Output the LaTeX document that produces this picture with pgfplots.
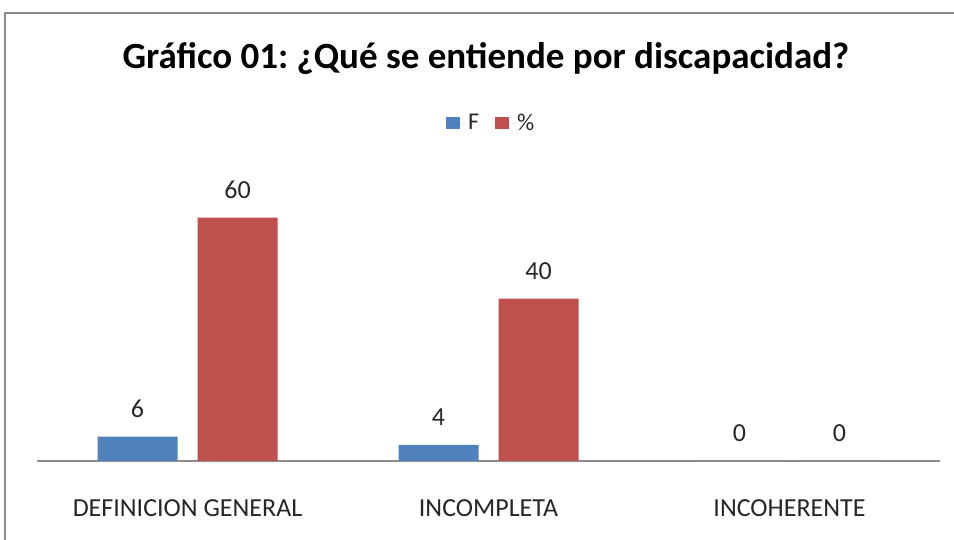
\documentclass[border=0pt]{standalone}
\usepackage{pgfplots}
\pgfplotsset{compat=1.18}
\usepackage{fontspec}
\setmainfont{Carlito}
\frenchspacing
\definecolor{cblue}{HTML}{4F81BD}
\definecolor{cred}{HTML}{C0504D}
\definecolor{frame}{HTML}{8C8C8C}
\begin{document}
\begin{tikzpicture}[x=1pt,y=1pt]
\useasboundingbox (0,0) rectangle (954,540);
\draw[frame,line width=2pt] (5,-5) -- (5,527) -- (960,527);
\begin{axis}[
  at={(37pt,79pt)}, anchor=south west,
  scale only axis, width=903pt, height=284pt,
  xmin=-0.5, xmax=2.5, ymin=0, ymax=70,
  axis y line=none,
  axis x line*=bottom,
  x axis line style={draw=frame, line width=1.2pt, -},
  xtick={0,1,2}, xtick style={draw=none},
  xticklabels={DEFINICION GENERAL, INCOMPLETA, INCOHERENTE},
  xticklabel style={font=\fontsize{26}{30}\selectfont, text=black!85, anchor=base, yshift=-51pt},
  /pgf/number format/assume math mode=true,
  ybar, bar width=80pt,
  nodes near coords,
  every node near coord/.append style={font=\fontsize{26}{30}\selectfont, text=black!85, anchor=base, yshift=19pt},
  legend columns=2,
  legend style={at={(axis description cs:0.503,1.19)}, anchor=center, draw=none, fill=none,
    font=\fontsize{24}{28}\selectfont, text=black!85,
    /tikz/every even column/.append style={column sep=14pt}},
  legend image code/.code={\fill[#1] (0pt,-6pt) rectangle (14pt,6pt); \path (0pt,0pt) -- (20pt,0pt);},
  clip=false,
]
\addplot[fill=cblue, draw=none, bar shift=-50pt] coordinates {(0,6) (1,4) (2,0)};
\addplot[fill=cred, draw=none, bar shift=50pt] coordinates {(0,60) (1,40) (2,0)};
\legend{F, \%}
\node[anchor=base] at (axis description cs:0.4972,1.3838) {\fontsize{37}{42}\selectfont\bfseries Gráfico 01: ¿Qué se entiende por discapacidad?};
\end{axis}
\end{tikzpicture}
\end{document}
